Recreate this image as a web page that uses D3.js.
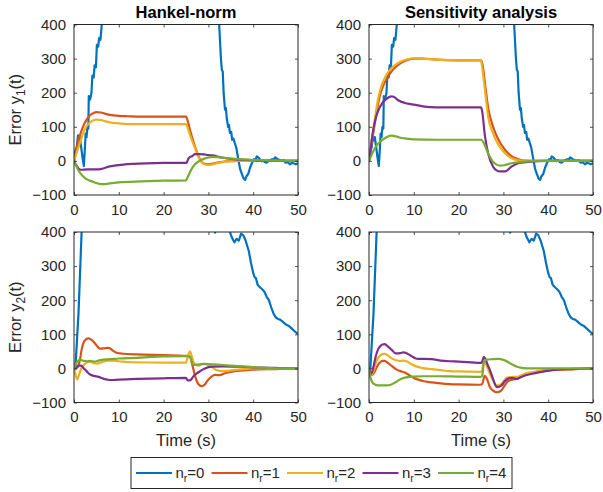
<!DOCTYPE html>
<html><head><meta charset="utf-8">
<script src="https://cdn.jsdelivr.net/npm/d3@7"></script>
<style>body{margin:0;background:#fff}svg{display:block}text{font-family:"Liberation Sans",Arial,Helvetica,sans-serif;fill:#262626}</style>
</head><body>
<script>
// ---------- data ----------
const xTicks = [0, 10, 20, 30, 40, 50];
const yTicks = [-100, 0, 100, 200, 300, 400];
const seriesNames = ["0", "1", "2", "3", "4"];
const colors = ["#0072BD", "#D95319", "#EDB120", "#7E2F8E", "#77AC30"];
const titles = ["Hankel-norm", "Sensitivity analysis"];

// n_r = 0 (same in both methods)
const blueY1 = [[0,0],[0.3,30],[0.6,40],[0.9,75],[1.1,60],[1.3,70],[1.6,40],[1.9,10],[2.2,-15],[2.4,30],[2.6,80],[2.8,70],[3.0,100],[3.2,95],[3.3,190],[3.6,180],[3.9,200],[4.1,250],[4.4,245],[4.6,280],[4.9,275],[5.1,340],[5.4,335],[5.6,360],[5.9,355],[6.2,400],[6.6,450],[7,500],[8,650],[10,900],[15,1200],[20,1300],[25,1200],[28,900],[30,700],[31.5,520],[32.4,400],[32.8,300],[33,267],[33.2,262],[33.4,200],[33.7,150],[33.9,155],[34.1,125],[34.4,100],[34.6,105],[34.8,82],[35.1,85],[35.3,62],[35.6,65],[35.9,52],[36.2,40],[36.7,3],[37.1,-25],[37.4,-36],[37.8,-50],[38.2,-56],[38.5,-45],[38.9,-38],[39.3,-20],[39.7,-7],[40.2,5],[40.5,2],[40.8,13],[41.3,8],[41.9,-1],[42.2,2],[42.5,-3],[43,-5],[43.5,0],[44.2,5],[44.5,3],[44.9,10],[45.5,5],[46.4,0],[46.8,2],[47.2,-5],[47.7,-4],[48.2,-10],[48.6,-6],[49,-7],[49.5,-10],[50,-7]];
const blueY2 = [[0,0],[0.3,0],[1,160],[1.7,400],[2,470],[3,700],[10,1500],[20,1600],[28,900],[31,480],[31.4,410],[31.5,398],[31.6,410],[32,500],[33.5,480],[34.5,420],[34.8,400],[35.2,385],[35.8,370],[36.3,380],[36.8,375],[37.3,395],[37.8,390],[38.3,375],[39,345],[39.5,310],[40,280],[40.3,268],[40.6,265],[41,245],[41.5,238],[42,232],[42.5,225],[43,210],[43.5,200],[44,180],[44.5,162],[45,150],[45.5,145],[46,143],[46.5,138],[47,132],[47.5,127],[48,124],[48.5,118],[49,112],[49.5,106],[50,100]];

// Hankel-norm, y1
const hkY1_nr1 = [[0,0],[0.5,30],[1,62],[1.5,82],[2,100],[2.5,114],[3,125],[3.5,133],[4,138],[5,143],[6,142],[7,138],[8,135],[10,132],[12,131],[15,130],[20,130],[25,130],[25.1,128],[26,85],[27,42],[28,8],[29,-8],[30,-10],[31,-8],[32,-5],[34,-1],[37,0],[50,0]];
const hkY1_nr2 = [[0,0],[0.5,20],[1,40],[1.5,60],[2,80],[2.5,95],[3,105],[4,117],[5,121],[6,120],[7,116],[8,113],[10,110],[12,108],[15,108],[25,108],[25.1,106],[26,72],[27,38],[28,6],[29,-9],[30,-12],[31,-10],[32,-6],[34,-2],[37,0],[50,0]];
const hkY1_nr3 = [[0,0],[0.5,-12],[1,-22],[1.5,-26],[3,-25],[5,-25],[6,-24],[7,-20],[8,-16],[9,-14],[11,-11],[13,-9],[16,-7],[20,-6],[25,-6],[25.2,-4],[25.6,8],[26.5,15],[27,20],[28,20],[29,19],[30,17],[31,16],[32,13],[33,10],[35,6],[38,3],[42,1],[50,0]];
const hkY1_nr4 = [[0,0],[0.5,-15],[1,-28],[2,-45],[3,-55],[4,-60],[5,-65],[6,-68],[7,-68],[8,-66],[10,-63],[15,-60],[20,-58],[25,-57],[25.3,-50],[26,-30],[27,-10],[28,0],[29,6],[30,10],[31,12],[32,11],[34,8],[37,5],[42,2],[50,0]];

// Sensitivity analysis, y1
const saY1_nr1 = [[0,0],[0.5,45],[1,85],[1.5,128],[2,165],[2.5,195],[3,215],[4,242],[5,262],[6,276],[7,286],[8,293],[10,300],[12,300],[15,297],[20,295],[25,295],[25.3,285],[26,215],[26.6,155],[27.7,100],[28.9,62],[30.4,32],[31.8,14],[33.3,5],[35,1],[38,0],[50,0]];
const saY1_nr2 = [[0,0],[0.5,50],[1,95],[1.5,140],[2,180],[2.5,208],[3,228],[4,255],[5,272],[6,283],[7,291],[8,296],[10,301],[12,300],[15,297],[20,295],[25,295],[25.2,280],[26,195],[26.6,130],[27.7,81],[28.9,47],[30.4,22],[31.8,8],[33.3,2],[35,0],[50,0]];
const saY1_nr3 = [[0,0],[0.3,25],[0.6,60],[1,95],[1.5,125],[2,145],[3,170],[4,183],[5,189],[5.5,188],[6.5,178],[8,170],[9,167],[10,165],[12,160],[15,157],[20,157],[25,157],[25.2,150],[25.9,71],[26.6,22],[27.7,-17],[28.5,-28],[29.2,-31],[30.4,-31],[31.8,-17],[33.3,-7],[35.5,-3],[40,0],[50,0]];
const saY1_nr4 = [[0,0],[0.5,15],[1,30],[2,50],[3,62],[4,70],[5,74],[6,72],[7,68],[8,66],[10,63],[15,62],[25,62],[25.5,55],[26.6,22],[27.7,-3],[28.5,-11],[29.2,-14],[30.4,-12],[31.8,-7],[34,-3],[38,0],[50,0]];

// Hankel-norm, y2
const hkY2_nr1 = [[0,0],[0.5,0],[1,10],[1.3,23],[1.7,55],[2.4,82],[3.2,88],[4,83],[5,68],[5.8,58],[6.7,59],[7.7,60],[8.5,54],[9.5,46],[11,43],[14,41],[20,39],[25,37],[25.8,35],[26.6,0],[27.2,-30],[27.7,-45],[28.5,-52],[29.2,-47],[29.8,-36],[30.7,-24],[31.5,-19],[32.6,-20],[33.5,-15],[35,-10],[38,-6],[40,-4],[45,-2],[50,0]];
const hkY2_nr2 = [[0,0],[0.3,-15],[0.7,-33],[1.1,-20],[1.6,0],[2.3,12],[3,18],[3.6,20],[4.5,15],[5.2,14],[6.5,20],[8,23],[10,21],[13,18],[20,17],[25,17],[25.4,35],[25.9,50],[26.3,35],[26.8,15],[27.7,8],[28.5,12],[29.2,13],[30.4,8],[31.8,-5],[33.3,-8],[35.5,-5],[38,-2],[42,0],[50,0]];
const hkY2_nr3 = [[0,0],[0.5,3],[1.1,8],[1.6,8],[2.2,0],[2.8,-8],[3.6,-18],[4.5,-22],[5.5,-25],[6.5,-30],[8,-34],[10,-33],[14,-31],[20,-29],[25,-28],[25.4,-35],[25.9,-35],[26.3,-30],[26.6,-24],[27.7,-12],[29.2,0],[31,5],[33.3,6],[37,5],[42,2],[46,1],[50,0]];
const hkY2_nr4 = [[0,0],[0.5,15],[1,24],[1.5,25],[2.2,22],[3,21],[3.5,22],[4.5,20],[5.5,23],[6.5,26],[8,27],[10,29],[14,31],[20,35],[25,36],[25.9,35],[26.3,20],[26.6,10],[27.5,11],[28.8,13],[31,12],[33.3,10],[35,8],[38,5],[42,2],[45.5,0],[50,0]];

// Sensitivity analysis, y2
const saY2_nr1 = [[0,0],[0.5,-20],[1,-15],[1.5,-3],[2,10],[2.5,18],[3,22],[3.5,22],[4,18],[5,8],[6,-2],[7,-8],[8,-12],[9,-20],[10,-28],[11,-33],[12,-37],[14,-41],[16,-44],[18,-46],[20,-47],[24.8,-48],[25.3,-45],[25.8,-22],[26.3,-30],[27,-55],[27.7,-65],[28.5,-70],[29.5,-65],[30.3,-50],[31,-38],[32,-33],[33,-30],[34,-22],[35,-15],[36.7,-12],[38,-8],[42,-4],[48,-1],[50,0]];
const saY2_nr2 = [[0,0],[0.5,-18],[1,-8],[1.5,15],[2,30],[2.5,38],[3,42],[3.5,43],[4,40],[5,30],[6,24],[7,22],[7.7,23],[8.5,20],[9.5,12],[10.5,6],[12,1],[14,-2],[16,-5],[18,-8],[20,-9],[24.8,-10],[25.2,-8],[25.6,20],[26,15],[26.8,-10],[27.7,-35],[28.5,-50],[29.3,-48],[30.2,-35],[30.8,-27],[32,-25],[33,-25],[34,-20],[35.5,-13],[37,-10],[40,-5],[45,-2],[50,0]];
const saY2_nr3 = [[0,0],[0.5,-15],[1,5],[1.5,35],[2,55],[2.5,65],[3,70],[3.5,71],[4,67],[5,55],[6,44],[7,45],[7.7,47],[8.5,44],[9.5,36],[10.3,30],[11,28],[12,28],[14,27],[16,23],[18,21],[20,20],[24.8,16],[25.2,18],[25.6,33],[25.9,30],[26.5,10],[27,-5],[27.8,-35],[28.5,-55],[29.6,-50],[30.3,-38],[31.1,-30],[32,-28],[33,-31],[34,-25],[35,-20],[36.7,-15],[38.5,-10],[41,-5],[45,-2],[50,0]];
const saY2_nr4 = [[0,0],[0.3,-25],[0.7,-40],[1,-45],[2,-50],[3,-50],[4,-50],[5,-47],[6,-40],[7,-32],[8,-27],[10,-24],[12,-23],[15,-23],[20,-24],[25,-25],[25.3,-20],[25.7,22],[26.5,26],[27.5,27],[29,28],[30,25],[31.5,15],[33,5],[34.5,1],[36,0],[50,0]];

// ---------- layout ----------
const W = 603, H = 492;
const panels = [
  {x0:74, x1:298, y0:24.5, y1:195, title:titles[0], ylab:"1", xlab:false, series:[blueY1,hkY1_nr1,hkY1_nr2,hkY1_nr3,hkY1_nr4]},
  {x0:369, x1:593, y0:24.5, y1:195, title:titles[1], ylab:null, xlab:false, series:[blueY1,saY1_nr1,saY1_nr2,saY1_nr3,saY1_nr4]},
  {x0:74, x1:298, y0:232, y1:402.5, title:null, ylab:"2", xlab:true, series:[blueY2,hkY2_nr1,hkY2_nr2,hkY2_nr3,hkY2_nr4]},
  {x0:369, x1:593, y0:232, y1:402.5, title:null, ylab:null, xlab:true, series:[blueY2,saY2_nr1,saY2_nr2,saY2_nr3,saY2_nr4]}
];
const axCol = "#262626";
const tickFont = 15, labFont = 16.5;

const svg = d3.select("body").append("svg").attr("width", W).attr("height", H);
const defs = svg.append("defs");

panels.forEach((p, i) => {
  const x = d3.scaleLinear().domain([0, 50]).range([p.x0, p.x1]);
  const y = d3.scaleLinear().domain([-100, 400]).range([p.y1, p.y0]);
  const g = svg.append("g");
  defs.append("clipPath").attr("id", "clip" + i).append("rect")
    .attr("x", p.x0).attr("y", p.y0).attr("width", p.x1 - p.x0).attr("height", p.y1 - p.y0);

  // lines
  const lg = g.append("g").attr("clip-path", `url(#clip${i})`);
  p.series.forEach((s, k) => {
    const line = d3.line().x(d => x(d[0])).y(d => y(d[1]))
      .curve(k === 0 ? d3.curveLinear : d3.curveMonotoneX);
    lg.append("path").datum(s).attr("d", line)
      .attr("fill", "none").attr("stroke", colors[k]).attr("stroke-width", 2.2)
      .attr("stroke-linejoin", "round");
  });

  // axes (MATLAB style box with inward ticks)
  const tl = 3;
  const axB = d3.axisBottom(x).tickValues(xTicks).tickSizeInner(-tl).tickSizeOuter(0).tickPadding(9);
  const axT = d3.axisTop(x).tickValues(xTicks).tickSizeInner(-tl).tickSizeOuter(0).tickFormat("");
  const axL = d3.axisLeft(y).tickValues(yTicks).tickSizeInner(-tl).tickSizeOuter(0).tickPadding(8);
  const axR = d3.axisRight(y).tickValues(yTicks).tickSizeInner(-tl).tickSizeOuter(0).tickFormat("");
  const gb = g.append("g").attr("transform", `translate(0,${p.y1})`).call(axB);
  const gt = g.append("g").attr("transform", `translate(0,${p.y0})`).call(axT);
  const gl = g.append("g").attr("transform", `translate(${p.x0},0)`).call(axL);
  const gr = g.append("g").attr("transform", `translate(${p.x1},0)`).call(axR);
  [gb, gt, gl, gr].forEach(a => {
    a.select(".domain").remove();
    a.selectAll(".tick line").attr("stroke", axCol).attr("stroke-width", 0.8);
    a.selectAll("text").attr("font-size", tickFont).attr("font-family", null).style("fill", axCol);
  });
  gb.selectAll("text").attr("dy", "0.71em");
  g.append("rect").attr("x", p.x0).attr("y", p.y0).attr("width", p.x1 - p.x0).attr("height", p.y1 - p.y0)
    .attr("fill", "none").attr("stroke", axCol).attr("stroke-width", 1);

  if (p.title) {
    g.append("text").attr("x", (p.x0 + p.x1) / 2).attr("y", 17.5).attr("text-anchor", "middle")
      .attr("font-size", 16.5).attr("font-weight", "bold").style("fill", "#000").text(p.title);
  }
  if (p.ylab) {
    const cy = (p.y0 + p.y1) / 2;
    const t = g.append("text").attr("transform", `translate(20.5,${cy}) rotate(-90)`)
      .attr("text-anchor", "middle").attr("font-size", labFont);
    t.append("tspan").text("Error y");
    t.append("tspan").attr("font-size", labFont * 0.72).attr("dy", 4).text(p.ylab);
    t.append("tspan").attr("dy", -4).text("(t)");
  }
  if (p.xlab) {
    g.append("text").attr("x", (p.x0 + p.x1) / 2).attr("y", 446).attr("text-anchor", "middle")
      .attr("font-size", labFont).text("Time (s)");
  }
});

// legend
const legX0 = 136, legStep = 75.5, legLine = 36, legY = 473;
const lg = svg.append("g");
const legItems = seriesNames.map((n, k) => ({n, c: colors[k], x: legX0 + k * legStep}));
lg.append("rect").attr("x", legX0 - 5).attr("y", 457.5).attr("width", 512 - (legX0 - 5)).attr("height", 31)
  .attr("fill", "#fff").attr("stroke", axCol).attr("stroke-width", 1);
legItems.forEach(it => {
  lg.append("line").attr("x1", it.x).attr("x2", it.x + legLine).attr("y1", legY).attr("y2", legY)
    .attr("stroke", it.c).attr("stroke-width", 2.2);
  const t = lg.append("text").attr("x", it.x + legLine + 3.5).attr("y", legY + 5).attr("font-size", 15);
  t.append("tspan").text("n");
  t.append("tspan").attr("font-size", 10.5).attr("dy", 4).text("r");
  t.append("tspan").attr("dy", -4).text("=" + it.n);
});
</script>
</body></html>
